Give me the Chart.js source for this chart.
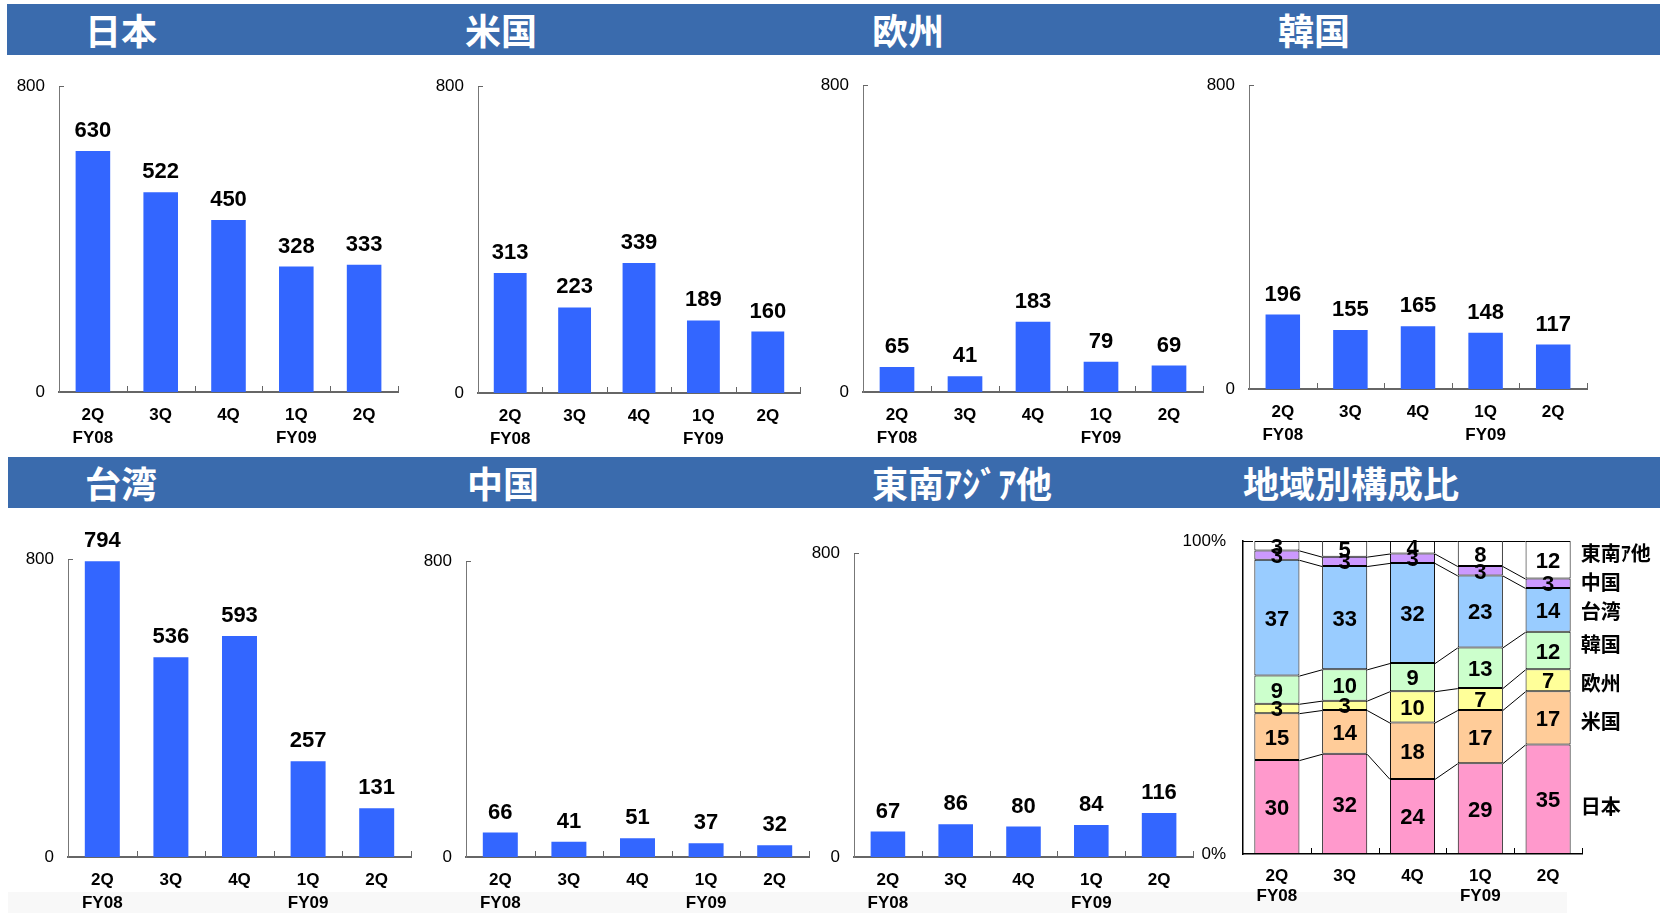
<!DOCTYPE html>
<html><head><meta charset="utf-8">
<script src="https://cdn.jsdelivr.net/npm/chart.js@4.4.1/dist/chart.umd.min.js"></script>
<style>
html,body{margin:0;padding:0;background:#fff}
body{width:1667px;height:913px;overflow:hidden;position:relative;font-family:'Liberation Sans',Arial,sans-serif}
.hdr{position:absolute;background:#3A6BAD}
.ttl{position:absolute;color:#fff;font-weight:bold;font-size:36px;font-family:'Noto Sans CJK JP',sans-serif;white-space:nowrap;height:51px;line-height:51px}
canvas{position:absolute}
</style></head><body>
<div class="hdr" style="left:7px;top:4px;width:1653px;height:51px"></div>
<div class="hdr" style="left:8px;top:457px;width:1652px;height:51px"></div>
<div style="position:absolute;left:8px;top:892px;width:1559px;height:21px;background:#f8f8f8"></div>
<script>
// ---- data ----
const categories = [['2Q','FY08'],'3Q','4Q',['1Q','FY09'],'2Q'];
const japan  = [630,522,450,328,333];
const usa    = [313,223,339,189,160];
const europe = [65,41,183,79,69];
const korea  = [196,155,165,148,117];
const taiwan = [794,536,593,257,131];
const china  = [66,41,51,37,32];
const seAsia = [67,86,80,84,116];
const yTickMax = 800;
const shareJapan  = [30,32,24,29,35];
const shareUSA    = [15,14,18,17,17];
const shareEurope = [3,3,10,7,7];
const shareKorea  = [9,10,9,13,12];
const shareTaiwan = [37,33,32,23,14];
const shareChina  = [3,3,3,3,3];
const shareSEAsia = [3,5,4,8,12];
const shareTickMax = 100;
const panelTitles = ['日本','米国','欧州','韓国','台湾','中国','東南ｱｼﾞｱ他','地域別構成比'];
const shareNames  = ['日本','米国','欧州','韓国','台湾','中国','東南ｱ他'];

// ---- layout / style ----
const BAR = '#3366FF';
const shareColors = ['#FF99CC','#FFCC99','#FFFF99','#CCFFCC','#99CCFF','#CC99FF','#FFFFFF'];
const nameShift = [7,4,3,-6,2,-1,-6];
const titlePos = [[85,4],[465,4],[872,4],[1278,4],[85,457],[467,457],[872,457],[1243,457]];
const barPanels = [
  {l:59,  r:398,  t:86,  b:392, data:japan},
  {l:478, r:800,  t:86,  b:393, data:usa},
  {l:863, r:1203, t:85,  b:392, data:europe},
  {l:1249,r:1587, t:85,  b:389, data:korea},
  {l:68,  r:411,  t:559, b:857, data:taiwan},
  {l:466, r:809,  t:561, b:857, data:china},
  {l:854, r:1193, t:553, b:857, data:seAsia}
];
const sharePanel = {l:1243, r:1582, t:541, b:854};
const FAM = "'Liberation Sans', Arial, sans-serif";

titlePos.forEach((p,i)=>{
  const d=document.createElement('div'); d.className='ttl';
  d.style.left=p[0]+'px'; d.style.top=p[1]+'px'; d.textContent=panelTitles[i];
  document.body.appendChild(d);
});

const decor = {
  id:'decor',
  afterDraw(chart, args, o){
    const ctx=chart.ctx, a=chart.chartArea, xs=chart.scales.x;
    ctx.save();
    ctx.strokeStyle=o.color; ctx.lineWidth=1;
    ctx.beginPath();
    ctx.moveTo(a.left, Math.round(a.top)+0.5); ctx.lineTo(a.left+o.topTick, Math.round(a.top)+0.5);
    const n=chart.data.labels.length;
    const half=(xs.getPixelForValue(1)-xs.getPixelForValue(0))/2;
    for(let i=0;i<n;i++){
      const x=Math.round(xs.getPixelForValue(i)+half)+0.5;
      ctx.moveTo(x,a.bottom); ctx.lineTo(x,a.bottom-6);
    }
    ctx.stroke();
    ctx.restore();
  }
};

const valueLabels = {
  id:'valueLabels',
  afterDatasetsDraw(chart){
    const ctx=chart.ctx; const meta=chart.getDatasetMeta(0);
    ctx.save();
    ctx.font='bold 22px '+FAM; ctx.fillStyle='#000'; ctx.textAlign='center'; ctx.textBaseline='alphabetic';
    meta.data.forEach((el,i)=>{
      ctx.fillText(String(chart.data.datasets[0].data[i]), el.x, el.y-14);
    });
    ctx.restore();
  }
};

function makeCanvas(l,t,r,b,padL,padT,padR,padB){
  const c=document.createElement('canvas');
  const L=l-padL, T=t-padT, W=(r-l)+padL+padR, H=(b-t)+padT+padB;
  c.width=W; c.height=H; c.style.left=L+'px'; c.style.top=T+'px';
  c.style.width=W+'px'; c.style.height=H+'px';
  document.body.appendChild(c);
  return c;
}

barPanels.forEach(p=>{
  const PL=70, PT=60, PR=10, PB=60;
  const c=makeCanvas(p.l,p.t,p.r,p.b,PL,PT,PR,PB);
  new Chart(c,{
    type:'bar',
    data:{labels:categories, datasets:[{data:p.data, backgroundColor:BAR, borderWidth:0,
      categoryPercentage:1, barPercentage:0.51}]},
    options:{
      responsive:false, animation:false, events:[],
      layout:{padding:{left:0,top:PT,right:PR,bottom:0}},
      plugins:{legend:{display:false}, tooltip:{enabled:false}, decor:{color:'#666', topTick:5}},
      scales:{
        x:{grid:{display:false,drawTicks:false}, border:{display:true,color:'#666',width:2},
           ticks:{color:'#000', padding:11.5, maxRotation:0, autoSkip:false,
             font:{family:FAM, size:17, weight:'bold', lineHeight:23/17}},
           afterFit(s){ s.height=PB; }},
        y:{min:0, max:yTickMax, grid:{display:false,drawTicks:false}, border:{display:true,color:'#777',width:1},
           ticks:{stepSize:yTickMax, color:'#000', padding:14, font:{family:FAM, size:17}},
           afterFit(s){ s.width=PL; }}
      }
    },
    plugins:[decor, valueLabels]
  });
});

// ---- composition chart ----
const shareSeries = [shareJapan, shareUSA, shareEurope, shareKorea, shareTaiwan, shareChina, shareSEAsia];
const shareDecor = {
  id:'shareDecor',
  afterDatasetsDraw(chart){
    const ctx=chart.ctx;
    ctx.save();
    ctx.strokeStyle='#000'; ctx.lineWidth=1;
    ctx.beginPath();
    chart.data.datasets.forEach((ds,d)=>{
      const m=chart.getDatasetMeta(d).data;
      for(let i=0;i<m.length-1;i++){
        ctx.moveTo(m[i].x+m[i].width/2, m[i].y+0.5);
        ctx.lineTo(m[i+1].x-m[i+1].width/2, m[i+1].y+0.5);
      }
    });
    ctx.stroke();
    ctx.font='bold 22px '+FAM; ctx.fillStyle='#000'; ctx.textAlign='center'; ctx.textBaseline='alphabetic';
    chart.data.datasets.forEach((ds,d)=>{
      chart.getDatasetMeta(d).data.forEach((el,i)=>{
        ctx.fillText(String(ds.data[i]), el.x, (el.y+el.base)/2+8);
      });
    });
    ctx.font="bold 20px 'Noto Sans CJK JP', sans-serif"; ctx.textAlign='left'; ctx.textBaseline='middle';
    chart.data.datasets.forEach((ds,d)=>{
      const m=chart.getDatasetMeta(d).data; const el=m[m.length-1];
      ctx.fillText(ds.label, el.x+el.width/2+10, (el.y+el.base)/2+nameShift[d]);
    });
    ctx.restore();
  }
};
(function(){
  const p=sharePanel, PL=70, PT=60, PR=80, PB=60;
  const c=makeCanvas(p.l,p.t,p.r,p.b,PL,PT,PR,PB);
  new Chart(c,{
    type:'bar',
    data:{labels:categories, datasets:shareSeries.map((s,i)=>({label:shareNames[i], data:s,
      backgroundColor:shareColors[i], borderColor:'#000', borderWidth:1, borderSkipped:false,
      categoryPercentage:1, barPercentage:0.665}))},
    options:{
      responsive:false, animation:false, events:[],
      layout:{padding:{left:0,top:PT,right:PR,bottom:0}},
      plugins:{legend:{display:false}, tooltip:{enabled:false}, decor:{color:'#000', topTick:10}},
      scales:{
        x:{stacked:true, grid:{display:false,drawTicks:false}, border:{display:true,color:'#000',width:1.5},
           ticks:{color:'#000', padding:12.2, maxRotation:0, autoSkip:false,
             font:{family:FAM, size:17, weight:'bold', lineHeight:20.3/17}},
           afterFit(s){ s.height=PB; }},
        y:{stacked:true, min:0, max:shareTickMax, grid:{display:false,drawTicks:false}, border:{display:true,color:'#000',width:1.5},
           ticks:{stepSize:shareTickMax, color:'#000', padding:17, font:{family:FAM, size:17}, callback:v=>v+'%'},
           afterFit(s){ s.width=PL; }}
      }
    },
    plugins:[decor, shareDecor]
  });
})();
</script>
</body></html>
